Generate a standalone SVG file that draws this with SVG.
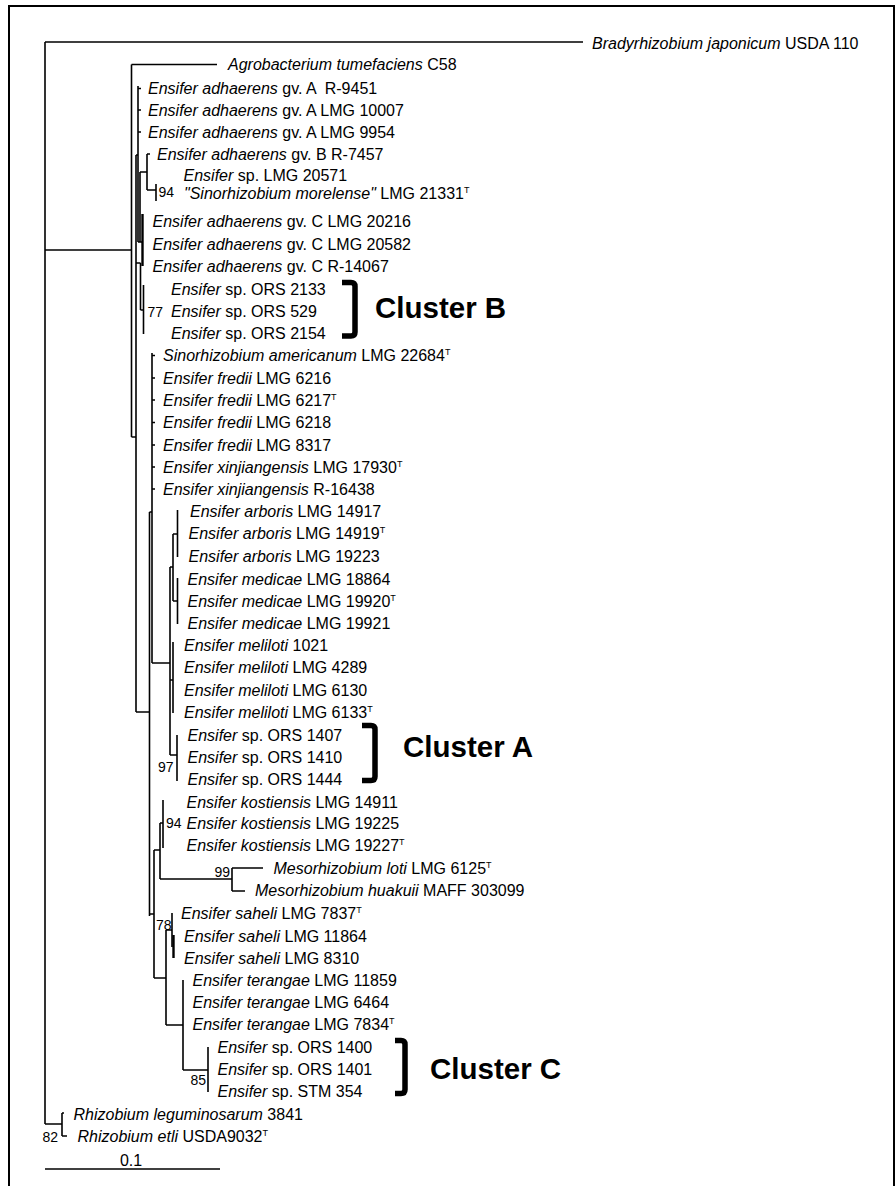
<svg xmlns="http://www.w3.org/2000/svg" width="896" height="1186" viewBox="0 0 896 1186">
<style>
.t{font-family:"Liberation Sans",Arial,sans-serif;font-size:16px;fill:#000}
.i{font-style:italic}
.bs{font-family:"Liberation Sans",Arial,sans-serif;font-size:14px;fill:#000}
.cl{font-family:"Liberation Sans",Arial,sans-serif;font-size:29.5px;font-weight:bold;fill:#000}
.sup{font-size:9px}
.br{fill:none;stroke:#000;stroke-width:1.6}
.thick{fill:none;stroke:#000;stroke-width:2.4}
.bk{fill:none;stroke:#000;stroke-width:5.5}
.frame{fill:none;stroke:#000;stroke-width:2}
</style>
<rect class="frame" x="9" y="6" width="885" height="1200"/>
<g id="connectors">
<path class="br" d="M45 42V1124M45 42H583M45 250H131.5M131.5 64.5V437M131.5 64.5H217M131.5 437H136M136 155V712M136 155H138M138 86V242M138 88.5h3M138 110h3M138 132h3M140 172V242M140 172H147M147 154V190M147 154h3M147 190H156M156 184V201M138 242H142M136 263H140.5M140.5 263V310M140.5 310H143.5M143.5 285V334M152 353V663M152 355.5h3M152 378h3M152 400h3M152 422.5h3M152 445h3M152 467h3M152 489h3M149.5 512H152M149.5 512V916M136 712H149.5M152 663H170M170 567V755M170 567H173M173 534V601M173 534H177.5M177.5 510V557M173 601H177.5M177.5 578V624M173 642V713M170 680H173M170 755H177M177 735V781M149.5 914H154M154 850V978M154 850H160M160 823V879M160 823H163M163 800V848M160 879H232M232 868V891M232 868H263M232 891H245M154 978H166M166 930V1025M166 930H172M172 913V947M166 1025H183M183 980V1070M183 1070H208M208 1047V1092M45 1124H62M62 1113V1136M62 1113H64M62 1136H67"/>
<path class="thick" d="M142.5 214V266M173.5 935V958"/>
<path id="scalebar" class="br" d="M45 1169H220"/>
</g>
<g id="n-brady"><text class="t" x="592" y="48.5"><tspan class="i">Bradyrhizobium japonicum</tspan> USDA 110</text></g>
<g id="n-agro"><text class="t" x="228" y="70"><tspan class="i">Agrobacterium tumefaciens</tspan> C58</text></g>
<g id="n-adhA1"><text class="t" x="148" y="94" xml:space="preserve"><tspan class="i">Ensifer adhaerens</tspan> gv. A  R-9451</text></g>
<g id="n-adhA2"><text class="t" x="148" y="115.5"><tspan class="i">Ensifer adhaerens</tspan> gv. A LMG 10007</text></g>
<g id="n-adhA3"><text class="t" x="148" y="137.5"><tspan class="i">Ensifer adhaerens</tspan> gv. A LMG 9954</text></g>
<g id="n-adhB"><text class="t" x="157" y="159.5"><tspan class="i">Ensifer adhaerens</tspan> gv. B R-7457</text></g>
<g id="n-20571"><text class="t" x="183.5" y="180.5"><tspan class="i">Ensifer</tspan> sp. LMG 20571</text></g>
<g id="n-morelense"><text class="t" x="184" y="199"><tspan class="i">"Sinorhizobium morelense"</tspan> LMG 21331<tspan class="sup" dy="-6">T</tspan></text></g>
<g id="n-adhC1"><text class="t" x="152.5" y="227"><tspan class="i">Ensifer adhaerens</tspan> gv. C LMG 20216</text></g>
<g id="n-adhC2"><text class="t" x="152.5" y="249.5"><tspan class="i">Ensifer adhaerens</tspan> gv. C LMG 20582</text></g>
<g id="n-adhC3"><text class="t" x="152.5" y="272"><tspan class="i">Ensifer adhaerens</tspan> gv. C R-14067</text></g>
<g id="n-ors2133"><text class="t" x="171" y="294.5"><tspan class="i">Ensifer</tspan> sp. ORS 2133</text></g>
<g id="n-ors529"><text class="t" x="171" y="317"><tspan class="i">Ensifer</tspan> sp. ORS 529</text></g>
<g id="n-ors2154"><text class="t" x="171" y="338.5"><tspan class="i">Ensifer</tspan> sp. ORS 2154</text></g>
<g id="n-americanum"><text class="t" x="163" y="361"><tspan class="i">Sinorhizobium americanum</tspan> LMG 22684<tspan class="sup" dy="-6">T</tspan></text></g>
<g id="n-fredii1"><text class="t" x="163" y="383.5"><tspan class="i">Ensifer fredii</tspan> LMG 6216</text></g>
<g id="n-fredii2"><text class="t" x="163" y="405.5"><tspan class="i">Ensifer fredii</tspan> LMG 6217<tspan class="sup" dy="-6">T</tspan></text></g>
<g id="n-fredii3"><text class="t" x="163" y="428"><tspan class="i">Ensifer fredii</tspan> LMG 6218</text></g>
<g id="n-fredii4"><text class="t" x="163" y="450.5"><tspan class="i">Ensifer fredii</tspan> LMG 8317</text></g>
<g id="n-xinj1"><text class="t" x="163" y="472.5"><tspan class="i">Ensifer xinjiangensis</tspan> LMG 17930<tspan class="sup" dy="-6">T</tspan></text></g>
<g id="n-xinj2"><text class="t" x="163" y="494.5"><tspan class="i">Ensifer xinjiangensis</tspan> R-16438</text></g>
<g id="n-arb1"><text class="t" x="190" y="516.5"><tspan class="i">Ensifer arboris</tspan> LMG 14917</text></g>
<g id="n-arb2"><text class="t" x="188.5" y="539"><tspan class="i">Ensifer arboris</tspan> LMG 14919<tspan class="sup" dy="-6">T</tspan></text></g>
<g id="n-arb3"><text class="t" x="188.5" y="561.5"><tspan class="i">Ensifer arboris</tspan> LMG 19223</text></g>
<g id="n-med1"><text class="t" x="187.5" y="584.5"><tspan class="i">Ensifer medicae</tspan> LMG 18864</text></g>
<g id="n-med2"><text class="t" x="187.5" y="606.5"><tspan class="i">Ensifer medicae</tspan> LMG 19920<tspan class="sup" dy="-6">T</tspan></text></g>
<g id="n-med3"><text class="t" x="187.5" y="628.5"><tspan class="i">Ensifer medicae</tspan> LMG 19921</text></g>
<g id="n-mel1"><text class="t" x="184" y="651"><tspan class="i">Ensifer meliloti</tspan> 1021</text></g>
<g id="n-mel2"><text class="t" x="184" y="673"><tspan class="i">Ensifer meliloti</tspan> LMG 4289</text></g>
<g id="n-mel3"><text class="t" x="184" y="695.5"><tspan class="i">Ensifer meliloti</tspan> LMG 6130</text></g>
<g id="n-mel4"><text class="t" x="184" y="718"><tspan class="i">Ensifer meliloti</tspan> LMG 6133<tspan class="sup" dy="-6">T</tspan></text></g>
<g id="n-ors1407"><text class="t" x="187.5" y="741"><tspan class="i">Ensifer</tspan> sp. ORS 1407</text></g>
<g id="n-ors1410"><text class="t" x="187.5" y="763"><tspan class="i">Ensifer</tspan> sp. ORS 1410</text></g>
<g id="n-ors1444"><text class="t" x="187.5" y="785"><tspan class="i">Ensifer</tspan> sp. ORS 1444</text></g>
<g id="n-kost1"><text class="t" x="186.5" y="807.5"><tspan class="i">Ensifer kostiensis</tspan> LMG 14911</text></g>
<g id="n-kost2"><text class="t" x="186.5" y="829"><tspan class="i">Ensifer kostiensis</tspan> LMG 19225</text></g>
<g id="n-kost3"><text class="t" x="186.5" y="851"><tspan class="i">Ensifer kostiensis</tspan> LMG 19227<tspan class="sup" dy="-6">T</tspan></text></g>
<g id="n-loti"><text class="t" x="273.5" y="873.5"><tspan class="i">Mesorhizobium loti</tspan> LMG 6125<tspan class="sup" dy="-6">T</tspan></text></g>
<g id="n-huakuii"><text class="t" x="255" y="896"><tspan class="i">Mesorhizobium huakuii</tspan> MAFF 303099</text></g>
<g id="n-sah1"><text class="t" x="181" y="918.5"><tspan class="i">Ensifer saheli</tspan> LMG 7837<tspan class="sup" dy="-6">T</tspan></text></g>
<g id="n-sah2"><text class="t" x="184" y="941.5"><tspan class="i">Ensifer saheli</tspan> LMG 11864</text></g>
<g id="n-sah3"><text class="t" x="184" y="963.5"><tspan class="i">Ensifer saheli</tspan> LMG 8310</text></g>
<g id="n-ter1"><text class="t" x="192.5" y="986"><tspan class="i">Ensifer terangae</tspan> LMG 11859</text></g>
<g id="n-ter2"><text class="t" x="192.5" y="1008"><tspan class="i">Ensifer terangae</tspan> LMG 6464</text></g>
<g id="n-ter3"><text class="t" x="192.5" y="1029.5"><tspan class="i">Ensifer terangae</tspan> LMG 7834<tspan class="sup" dy="-6">T</tspan></text></g>
<g id="n-ors1400"><text class="t" x="217.5" y="1052.5"><tspan class="i">Ensifer</tspan> sp. ORS 1400</text></g>
<g id="n-ors1401"><text class="t" x="217.5" y="1075"><tspan class="i">Ensifer</tspan> sp. ORS 1401</text></g>
<g id="n-stm354"><text class="t" x="217.5" y="1097"><tspan class="i">Ensifer</tspan> sp. STM 354</text></g>
<g id="n-rleg"><text class="t" x="73.5" y="1119.5"><tspan class="i">Rhizobium leguminosarum</tspan> 3841</text></g>
<g id="n-retli"><text class="t" x="77.5" y="1141.5"><tspan class="i">Rhizobium etli</tspan> USDA9032<tspan class="sup" dy="-6">T</tspan></text></g>
<g id="bootstrap">
<text class="bs" x="158.5" y="197">94</text>
<text class="bs" x="147.5" y="316.5">77</text>
<text class="bs" x="158" y="772">97</text>
<text class="bs" x="166" y="828">94</text>
<text class="bs" x="214.5" y="877">99</text>
<text class="bs" x="156" y="930">78</text>
<text class="bs" x="190.5" y="1084.5">85</text>
<text class="bs" x="42.5" y="1142">82</text>
</g>
<g id="scale"><text class="t" x="131" y="1166" text-anchor="middle">0.1</text></g>
<g id="cluster-b"><path class="bk" d="M342 282.5H351Q355 282.5 355 286.5V332Q355 336 351 336H342"/><text class="cl" x="375" y="318">Cluster B</text></g>
<g id="cluster-a"><path class="bk" d="M362 725.5H371Q375 725.5 375 729.5V776.5Q375 780.5 371 780.5H362"/><text class="cl" x="403" y="757">Cluster A</text></g>
<g id="cluster-c"><path class="bk" d="M395 1040.5H401Q405 1040.5 405 1044.5V1089.5Q405 1093.5 401 1093.5H395"/><text class="cl" x="430" y="1079">Cluster C</text></g>
</svg>
